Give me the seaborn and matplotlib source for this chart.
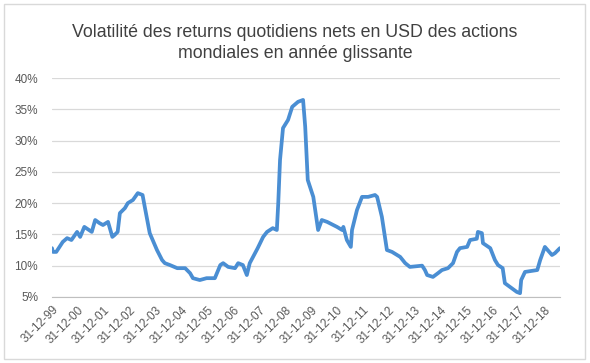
import numpy as np
import pandas as pd
import matplotlib
matplotlib.use("Agg")
import matplotlib.pyplot as plt
import matplotlib.dates as mdates
from matplotlib.patches import Rectangle
from matplotlib.ticker import FuncFormatter
import seaborn as sns

# Volatilité annuelle glissante
dates = [
    "2000-01-01", "2000-01-15", "2000-03-01", "2000-06-01", "2000-08-01", "2000-10-01",
    "2000-12-20", "2001-02-01", "2001-04-01", "2001-07-15", "2001-09-01", "2001-11-01",
    "2001-12-20", "2002-03-01", "2002-05-01", "2002-06-01", "2002-07-15", "2002-08-15",
    "2002-10-25", "2002-12-05", "2003-02-15", "2003-04-25", "2003-07-01", "2003-08-01",
    "2003-10-10", "2004-01-20", "2004-04-01", "2004-05-10", "2004-07-20", "2004-11-01",
    "2005-02-20", "2005-05-01", "2005-06-10", "2005-09-15", "2005-12-20", "2006-04-15",
    "2006-07-01", "2006-08-10", "2006-10-20", "2007-01-25", "2007-03-10", "2007-05-15",
    "2007-07-10", "2007-08-20", "2007-12-10", "2008-02-25", "2008-04-20", "2008-07-10",
    "2008-09-05", "2008-09-25", "2008-10-20", "2008-12-01", "2009-02-10", "2009-04-10",
    "2009-07-01", "2009-09-10", "2009-10-10", "2009-11-15", "2010-02-01", "2010-04-10",
    "2010-06-01", "2010-08-15", "2011-01-01", "2011-03-15", "2011-04-01", "2011-05-20",
    "2011-07-15", "2011-08-01", "2011-10-10", "2011-12-20", "2012-03-15", "2012-06-20",
    "2012-07-20", "2012-09-25", "2012-12-05", "2013-02-15", "2013-06-10", "2013-08-20",
    "2013-10-25", "2014-04-15", "2014-05-25", "2014-06-25", "2014-09-15", "2014-11-25",
    "2015-01-20", "2015-04-15", "2015-06-25", "2015-08-20", "2015-10-01", "2016-01-10",
    "2016-02-20", "2016-05-25", "2016-06-10", "2016-08-05", "2016-08-20", "2016-12-01",
    "2017-02-05", "2017-03-20", "2017-05-25", "2017-06-25", "2017-09-05", "2017-12-10",
    "2018-01-25", "2018-02-10", "2018-04-05", "2018-09-25", "2018-11-05", "2019-01-10",
    "2019-04-20", "2019-06-01", "2019-08-10",
]
volatility = [
    12.8, 12.2, 12.2, 13.8, 14.4, 14.1,
    15.4, 14.6, 16.2, 15.4, 17.3, 16.8,
    16.5, 17.0, 14.6, 14.9, 15.4, 18.4,
    19.2, 20.0, 20.5, 21.6, 21.3, 19.4,
    15.2, 12.5, 10.9, 10.4, 10.1, 9.6,
    9.6, 8.8, 8.0, 7.7, 8.0, 8.0,
    10.1, 10.4, 9.8, 9.6, 10.4, 10.1,
    8.5, 10.4, 12.8, 14.6, 15.4, 16.0,
    15.7, 20.0, 26.9, 32.0, 33.3, 35.4,
    36.2, 36.5, 32.2, 23.7, 21.0, 15.7,
    17.3, 17.0, 16.2, 15.7, 16.2, 14.1,
    13.0, 15.7, 18.9, 21.0, 21.0, 21.3,
    21.0, 17.8, 12.5, 12.2, 11.4, 10.4,
    9.8, 10.0, 9.3, 8.5, 8.2, 8.8,
    9.3, 9.6, 10.4, 12.2, 12.8, 13.0,
    14.1, 14.3, 15.4, 15.2, 13.6, 12.8,
    10.9, 10.1, 9.6, 7.2, 6.6, 5.8,
    5.6, 7.7, 9.0, 9.3, 10.9, 13.0,
    11.7, 12.0, 12.8,
]

tick_years = list(range(1999, 2019))
y_ticks = [5, 10, 15, 20, 25, 30, 35, 40]
title = "Volatilité des returns quotidiens nets en USD des actions\nmondiales en année glissante"

df = pd.DataFrame({"date": pd.to_datetime(dates), "vol": volatility})

sns.set_style("white")
plt.rcParams["font.family"] = ["Liberation Sans", "DejaVu Sans"]

fig = plt.figure(figsize=(5.9, 3.63), dpi=100)
ax = fig.add_axes([0.088, 0.182, 0.861, 0.603])

sns.lineplot(data=df, x="date", y="vol", ax=ax, color="#4A8ED3", linewidth=2.7)

ax.set_ylim(5, 40)
ax.set_yticks(y_ticks)
ax.yaxis.set_major_formatter(FuncFormatter(lambda v, p: f"{v:.0f}%"))
ax.grid(axis="y", color="#D9D9D9", linewidth=0.9)
ax.set_axisbelow(True)

xt = [pd.Timestamp(f"{y}-12-31") for y in tick_years]
ax.set_xticks(xt)
ax.xaxis.set_major_formatter(mdates.DateFormatter("%d-%m-%y"))
ax.set_xlim(pd.Timestamp("1999-12-31"), pd.Timestamp("2019-08-10"))

for s in ["top", "right", "left"]:
    ax.spines[s].set_visible(False)
ax.spines["bottom"].set_color("#BFBFBF")
ax.tick_params(axis="x", direction="out", length=4, color="#BFBFBF",
               labelsize=8.5, labelcolor="#595959", rotation=45, pad=1)
ax.tick_params(axis="y", length=0, labelsize=8.5, labelcolor="#595959", pad=10)
for lab in ax.get_xticklabels():
    lab.set_ha("right")
    lab.set_rotation_mode("anchor")
ax.set_xlabel("")
ax.set_ylabel("")

fig.text(0.5, 0.935, title, ha="center", va="top", fontsize=12.8,
         color="#404040", linespacing=1.35)

fig.patches.append(Rectangle((0.006, 0.012), 0.985, 0.976, transform=fig.transFigure,
                             fill=False, edgecolor="#D9D9D9", linewidth=1))

fig.savefig("out.png", dpi=100)
